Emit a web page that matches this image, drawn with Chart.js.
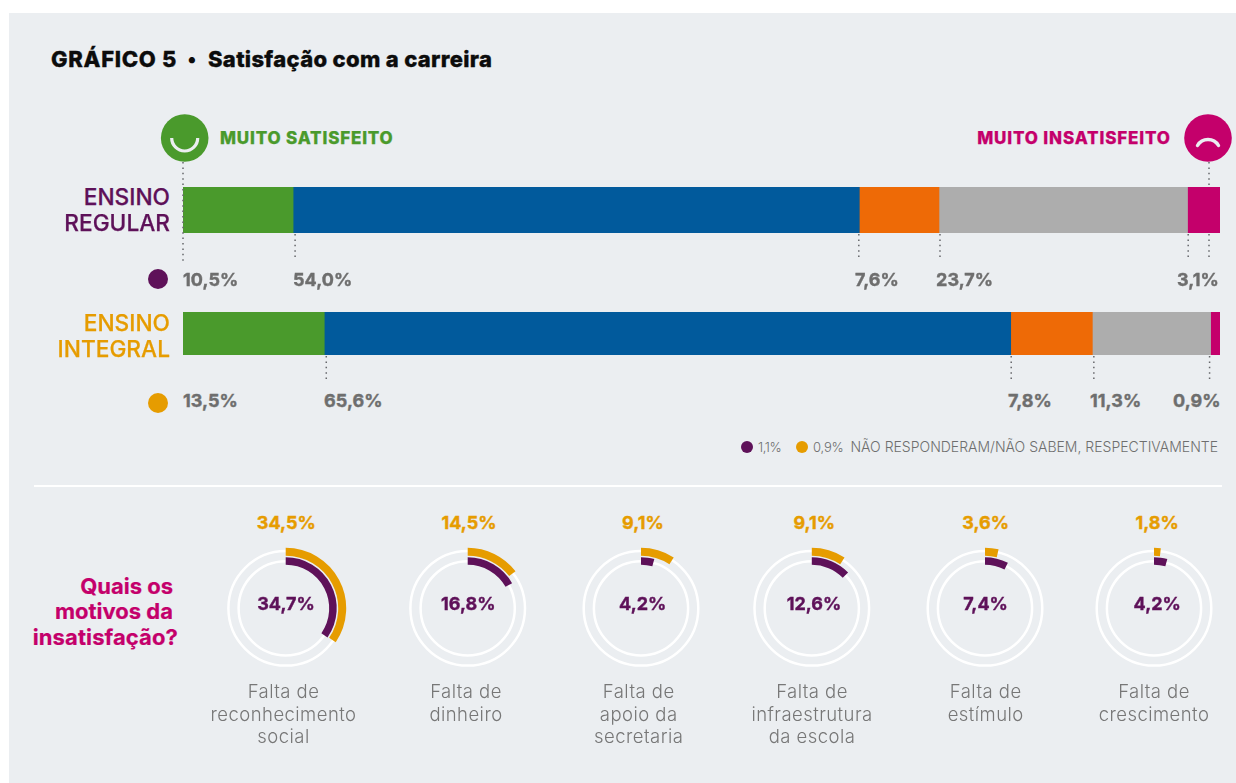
<!DOCTYPE html>
<html lang="pt"><head><meta charset="utf-8">
<script src="https://cdn.jsdelivr.net/npm/chart.js@4"></script>
<style>
html,body{margin:0;padding:0;background:#fff;width:1236px;height:783px;overflow:hidden}
#panel{position:absolute;left:9px;top:13px;width:1227px;height:770px;background:#ebeef1}
#root{position:absolute;left:0;top:0;width:1236px;height:783px;font-family:Inter,"Noto Sans",sans-serif}
canvas{position:absolute}
.t{position:absolute;white-space:nowrap;line-height:1;transform:translateY(-50%)}
.dot{position:absolute;border-radius:50%}
</style></head><body>
<div id="panel"></div><div id="root"></div>
<script>
// ---- data ----
const segments = ["Muito satisfeito","Satisfeito","Nem satisfeito nem insatisfeito","Insatisfeito","Muito insatisfeito"];
const regular  = [10.5,54.0,7.6,23.7,3.1];
const integral = [13.5,65.6,7.8,11.3,0.9];
const reasons = ["Falta de\nreconhecimento\nsocial","Falta de\ndinheiro","Falta de\napoio da\nsecretaria","Falta de\ninfraestrutura\nda escola","Falta de\nestímulo","Falta de\ncrescimento"];
const reasonsIntegral = [34.5,14.5,9.1,9.1,3.6,1.8];
const reasonsRegular  = [34.7,16.8,4.2,12.6,7.4,4.2];

// ---- style / layout ----
const SEG = ["#4a9a2c","#015a9c","#ee6a06","#adadad","#c4006b"];
const PURPLE="#5e1159", AMBER="#e69c00", PINK="#c4006b", GREEN="#4a9a2c", GREY="#6e6e6e";
const root=document.getElementById("root");
const pct=v=>v.toFixed(1).replace(".",",")+"%";
function text(s,x,y,o={}){
  const e=document.createElement("div");e.className="t";e.textContent=s;
  e.style.cssText+=`top:${y}px;font-size:${o.size||18}px;font-weight:${o.w||700};color:${o.c||GREY};letter-spacing:${o.ls||0}px;-webkit-text-stroke:${o.st||0}px ${o.c||GREY};`;
  if(o.a==="r"){e.style.right=(1236-x)+"px";}
  else if(o.a==="c"){e.style.left=x+"px";e.style.transform="translate(-50%,-50%)";}
  else e.style.left=x+"px";
  root.appendChild(e);return e;
}
function dot(x,y,r,c){const e=document.createElement("div");e.className="dot";
  e.style.cssText+=`left:${x-r}px;top:${y-r}px;width:${2*r}px;height:${2*r}px;background:${c}`;root.appendChild(e);}
function canvas(l,t,w,h){const c=document.createElement("canvas");c.width=w;c.height=h;
  c.style.cssText=`left:${l}px;top:${t}px;width:${w}px;height:${h}px`;root.appendChild(c);return c.getContext("2d");}

// leader lines
const leaders={id:"leaders",afterDatasetsDraw(ch,_,o){
  const {ctx,chartArea:a,scales:{x}}=ch;ctx.save();ctx.strokeStyle="#66676b";ctx.lineWidth=1.5;ctx.setLineDash([1.5,3.9]);
  for(const l of o.lines){const px=x.getPixelForValue(l.v)+(l.dx||0);
    ctx.beginPath();ctx.moveTo(px,l.up?a.top-l.up:a.bottom+1);ctx.lineTo(px,l.up&&!l.down?a.top:a.bottom+o.len);ctx.stroke();}
  ctx.restore();}};

function stackBar(values,barTop,barBottom,len,lines){
  const L=183,R=1220,cl=170,ct=barTop-30,cw=1056,ch=barBottom-barTop+30+34;
  const total=values.reduce((a,b)=>a+b,0);
  new Chart(canvas(cl,ct,cw,ch),{type:"bar",
    data:{labels:[""],datasets:values.map((v,i)=>({label:segments[i],data:[v],backgroundColor:SEG[i],barPercentage:1,categoryPercentage:1,borderWidth:0}))},
    plugins:[leaders],
    options:{indexAxis:"y",responsive:false,animation:false,
      layout:{padding:{left:L-cl,right:cl+cw-R,top:barTop-ct,bottom:ct+ch-barBottom}},
      scales:{x:{stacked:true,display:false,min:0,max:total},y:{stacked:true,display:false}},
      plugins:{legend:{display:false},tooltip:{enabled:false},leaders:{len,lines:lines(total)}}}});
}
const cum=(a,n)=>a.slice(0,n).reduce((s,v)=>s+v,0);
stackBar(regular,187,233,28,t=>[
  {v:0,dx:0,up:25,down:true},{v:cum(regular,1),dx:2},{v:cum(regular,2),dx:-.5},{v:cum(regular,3),dx:1},{v:cum(regular,4),dx:.7},
  {v:t,dx:-11,up:25},{v:t,dx:-11}]);
stackBar(integral,312,355,28,t=>[
  {v:cum(integral,1),dx:2},{v:cum(integral,2),dx:.5},{v:cum(integral,3),dx:1.5},{v:cum(integral,4),dx:-1}]);

// header
const INK="#0c0c0c";
text("GRÁFICO 5",51,58.5,{size:22,w:800,c:INK,ls:.7,st:.35});
text("•",187.5,58.5,{size:20,w:800,c:INK});
text("Satisfação com a carreira",208,58.5,{size:22,w:800,c:INK,ls:.33,st:.35});
text("MUITO SATISFEITO",220,138,{size:17,w:800,c:GREEN,ls:.83,st:.25});
text("MUITO INSATISFEITO",1170.8,138,{size:17,w:800,c:PINK,ls:.86,a:"r",st:.25});
// row names
text("ENSINO",170,197,{size:22.7,w:500,c:PURPLE,a:"r",st:.25});
text("REGULAR",170,223,{size:22.7,w:500,c:PURPLE,a:"r",st:.25});
text("ENSINO",170,323,{size:22.7,w:500,c:AMBER,a:"r",st:.25});
text("INTEGRAL",170,349,{size:22.7,w:500,c:AMBER,a:"r",st:.25});
dot(157.5,279,10,PURPLE);dot(157.5,403,10,AMBER);
// value labels
const xR=[183,293,855,936,1177], xI=[183,324,1008,1090,1173];
regular.forEach((v,i)=>text(pct(v),xR[i],279.5,{size:18,st:.4,ls:.05}));
integral.forEach((v,i)=>text(pct(v),xI[i],400.5,{size:18,st:.4,ls:.05}));
// footnote
dot(747,447,6,PURPLE);dot(801.5,447,6,AMBER);
text("1,1%",758,447,{size:13,w:300,ls:-.4});
text("0,9%",813,447,{size:13,w:300,ls:-.2});
text("NÃO RESPONDERAM/NÃO SABEM, RESPECTIVAMENTE",1218,447,{size:14,w:300,a:"r"});
// divider
const dv=document.createElement("div");dv.style.cssText="position:absolute;left:34px;top:484.5px;width:1188px;height:2px;background:#fff";root.appendChild(dv);
// question
text("Quais os",173,586,{size:22,w:700,c:PINK,a:"r",st:.2});
text("motivos da",173,611,{size:22,w:700,c:PINK,a:"r",st:.2});
text("insatisfação?",178,637,{size:22,w:700,c:PINK,a:"r",st:.2,ls:.1});

// smileys
const svg=document.createElementNS("http://www.w3.org/2000/svg","svg");
svg.setAttribute("width",1236);svg.setAttribute("height",200);svg.style.cssText="position:absolute;left:0;top:0";
svg.innerHTML=`<circle cx="184.7" cy="138" r="23.8" fill="${GREEN}"/>
<path d="M171.7 138 A13 13 0 0 0 197.7 138" fill="none" stroke="#ebeef1" stroke-width="3.2"/>
<circle cx="1208" cy="138" r="23.8" fill="${PINK}"/>
<path d="M1197.5 145.5 A12.2 12.2 0 0 1 1218.5 145.5" fill="none" stroke="#ebeef1" stroke-width="3.4" stroke-linecap="round"/>`;
root.appendChild(svg);

// doughnuts
const rings={id:"rings",beforeDatasetsDraw(ch){
  const {ctx,chartArea:a}=ch,cx=(a.left+a.right)/2,cy=(a.top+a.bottom)/2;
  ctx.save();ctx.strokeStyle="#fff";ctx.lineWidth=2.5;
  for(const r of [57.3,47.1]){ctx.beginPath();ctx.arc(cx,cy,r,0,2*Math.PI);ctx.stroke();}
  ctx.restore();}};
const centres=[285.7,467.7,641,811.8,985,1154], CY=608.3, OUT=60.5, INN=43.5;
const topX=[286.3,469,642.9,814.2,985.7,1157.2], midX=[286,468.3,642.7,814,985.5,1157.2], nameX=[283.5,466,638.7,812,985.7,1154];
reasons.forEach((name,i)=>{
  const S=130,cx=centres[i],fx=cx-Math.floor(cx),fy=CY-Math.floor(CY),pad=S/2-OUT;
  const ctx=canvas(Math.floor(cx)-S/2,Math.floor(CY)-S/2,S,S);
  new Chart(ctx,{type:"doughnut",
    data:{labels:["motivo","resto"],datasets:[
      {data:[reasonsIntegral[i],100-reasonsIntegral[i]],backgroundColor:[AMBER,"rgba(0,0,0,0)"],borderWidth:0,weight:8},
      {data:[0,100],backgroundColor:["rgba(0,0,0,0)","rgba(0,0,0,0)"],borderWidth:0,weight:1.5},
      {data:[reasonsRegular[i],100-reasonsRegular[i]],backgroundColor:[PURPLE,"rgba(0,0,0,0)"],borderWidth:0,weight:7.5}]},
    plugins:[rings],
    options:{responsive:false,animation:false,cutout:(INN/OUT*100)+"%",
      layout:{padding:{left:pad+fx,right:pad-fx,top:pad+fy,bottom:pad-fy}},
      plugins:{legend:{display:false},tooltip:{enabled:false}}}});
  text(pct(reasonsIntegral[i]),topX[i],522.5,{size:18,c:AMBER,a:"c",st:.4});
  text(pct(reasonsRegular[i]),midX[i],604,{size:18,c:PURPLE,a:"c",st:.4});
  name.split("\n").forEach((ln,k)=>text(ln,nameX[i],691+k*22.5,{size:18.5,w:300,c:"#777",a:"c",ls:.45}));
});
</script></body></html>
